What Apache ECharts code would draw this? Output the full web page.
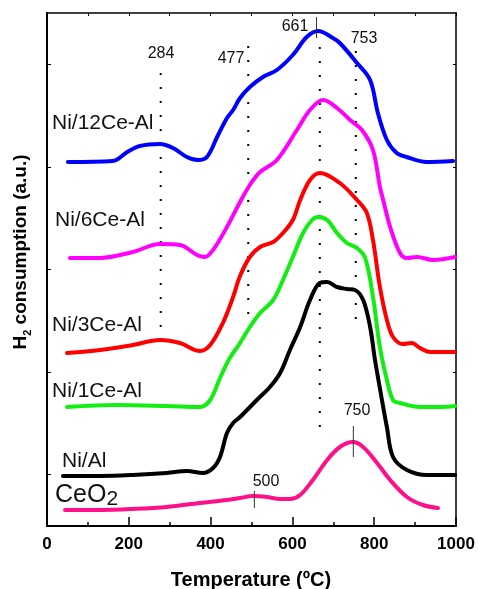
<!DOCTYPE html>
<html><head><meta charset="utf-8">
<script src="https://cdn.jsdelivr.net/npm/echarts/dist/echarts.min.js"></script>
<style>html,body{margin:0;padding:0;background:#fff}#c{width:478px;height:589px}</style>
</head><body><div id="c"></div>
<script>
// Temperature (ºC) / H2 consumption (a.u., stacked offsets)
const tNi12 = [51,161,196,227,276,308,342,369,391,416,440,455,472,496,528,562,601,635,663,699,716,758,790,809,831,855,879,928,993];
const vNi12 = [364,365,374,380,382,378,369,366,369,389,408,416,428,439,449,456,471,489,495,488,483,463,446,413,386,373,369,364,365];

const tNi6 = [56,130,210,276,325,367,386,406,440,472,496,521,562,611,643,675,709,741,770,797,814,822,839,863,880,905,944,998];
const vNi6 = [268,268,274,282,281,271,269,276,299,324,341,354,366,396,416,426,418,406,396,376,339,326,299,273,268,269,266,269];

const tNi3 = [49,130,210,276,325,374,399,430,455,472,496,521,553,577,601,619,643,667,716,758,782,797,814,831,846,870,892,912,936,998];
const vNi3 = [173,176,181,186,183,175,181,203,229,250,269,279,284,293,306,326,346,353,343,326,313,286,239,206,189,182,183,178,174,174];

const tNi1 = [49,171,293,374,399,423,447,472,496,521,553,577,601,626,648,663,685,709,733,758,778,797,814,831,846,863,912,961,998];
const vNi1 = [119,121,120,119,126,148,168,183,199,213,226,246,269,293,306,309,306,293,283,278,268,229,179,146,126,123,119,119,120];

const tNiAl = [39,130,210,293,342,381,406,423,440,455,472,513,545,570,594,619,643,667,685,709,733,753,773,790,802,819,831,846,880,929,998];
const vNiAl = [50,50,51,53,55,53,58,69,93,103,109,126,139,153,176,199,226,243,244,239,237,236,226,199,166,126,99,69,56,51,51];

const tCeO2 = [44,130,210,293,374,440,472,504,538,570,594,619,650,685,716,748,773,807,839,880,919,956];
const vCeO2 = [16,16,17,19,23,26,28,30,29,27,27,31,46,66,79,84,79,63,46,29,21,18];

// dotted guide lines (temperature, top, bottom)
const guideT = [278,492,667,755];
const guideTop = [453,480,479,475];
const guideBottom = [173,201,88,196];
// short solid peak markers
const markT = [659,749,507];
const markTop = [509,100,35];
const markBottom = [488,69,18];

const xTickLabels = ['0','200','400','600','800','1000'];

const chart = echarts.init(document.getElementById('c'), null, {renderer:'canvas'});

function curve(name, T, v, color) {
  return {name, type:'line', xAxisIndex:0, yAxisIndex:0, data:T.map((t,i)=>[t,v[i]]),
    smooth:0.35, symbol:'none', silent:true, z:3,
    lineStyle:{color, width:4, cap:'round', join:'round'}};
}
const series = [
  curve('Ni/12Ce-Al', tNi12, vNi12, '#0000ff'),
  curve('Ni/6Ce-Al', tNi6, vNi6, '#ff00ff'),
  curve('Ni/3Ce-Al', tNi3, vNi3, '#ff0000'),
  curve('Ni/1Ce-Al', tNi1, vNi1, '#11ee11'),
  curve('Ni/Al', tNiAl, vNiAl, '#000000'),
  curve('CeO2', tCeO2, vCeO2, '#ff1088')
];
guideT.forEach((t,i)=>{
  series.push({type:'line', xAxisIndex:0, yAxisIndex:0, symbol:'none', silent:true, z:2,
    data:[[t,guideTop[i]],[t,guideBottom[i]]],
    lineStyle:{color:'#000', width:2, type:[2,12]}});
});
markT.forEach((t,i)=>{
  series.push({type:'line', xAxisIndex:0, yAxisIndex:0, symbol:'none', silent:true, z:4,
    data:[[t,markTop[i]],[t,markBottom[i]]],
    lineStyle:{color:'#333', width:1}});
});

const F = 'Liberation Sans, Arial, Helvetica, sans-serif';
function txt(s, x, y, size, align, extra) {
  return Object.assign({type:'text', x, y, silent:true, z:10,
    style:{text:s, font:size+'px '+F, fill:'#111', textAlign:align||'left', textVerticalAlign:'middle'}}, extra||{});
}

const option = {
  animation:false,
  backgroundColor:'#fff',
  grid:{left:47, right:22, top:13, bottom:63},
  xAxis:[
    {type:'value', min:0, max:1000, interval:200, position:'bottom',
      axisLine:{show:true, lineStyle:{color:'#000', width:2}},
      axisTick:{show:true, inside:true, length:9, lineStyle:{color:'#000', width:1.5}},
      minorTick:{show:true, splitNumber:2, length:4, lineStyle:{color:'#000', width:1.5}},
      splitLine:{show:false}, minorSplitLine:{show:false},
      axisLabel:{color:'#000', fontWeight:'bold', fontSize:17, fontFamily:F, margin:10,
        formatter:(v)=>xTickLabels[Math.round(v/200)]}},
    {type:'value', min:0, max:1000, interval:100, position:'top',
      axisLine:{show:true, lineStyle:{color:'#000', width:1.5}},
      axisTick:{show:true, inside:true, length:3, lineStyle:{color:'#000', width:1}},
      axisLabel:{show:false}, splitLine:{show:false}}
  ],
  yAxis:[
    {type:'value', min:0, max:513, show:false, splitLine:{show:false}},
    {type:'category', data:['','','','',''], position:'left', boundaryGap:true,
      axisLine:{show:true, lineStyle:{color:'#000', width:2}},
      axisTick:{show:true, inside:true, length:4, alignWithLabel:true, interval:0, lineStyle:{color:'#000', width:1}},
      axisLabel:{show:false}, splitLine:{show:false}},
    {type:'category', data:['','','','',''], position:'right', boundaryGap:true,
      axisLine:{show:true, lineStyle:{color:'#000', width:1.5}},
      axisTick:{show:true, inside:true, length:3, alignWithLabel:true, interval:0, lineStyle:{color:'#000', width:1}},
      axisLabel:{show:false}, splitLine:{show:false}}
  ],
  series,
  graphic:[
    txt('Ni/12Ce-Al', 52, 123, 21),
    txt('Ni/6Ce-Al', 55, 220, 21),
    txt('Ni/3Ce-Al', 52, 325, 21),
    txt('Ni/1Ce-Al', 52, 391, 21),
    txt('Ni/Al', 62, 461, 21),
    {type:'text', x:55, y:495, silent:true, z:10,
      style:{text:'{a|CeO}{b|2}', fill:'#111', textVerticalAlign:'middle',
        rich:{a:{font:'25px '+F, fill:'#111', lineHeight:30, verticalAlign:'middle'},
              b:{font:'21px '+F, fill:'#111', lineHeight:30, verticalAlign:'bottom', padding:[12,0,0,0]}}}},
    txt('284', 161, 54, 16, 'center'),
    txt('477', 231, 59, 16, 'center'),
    txt('661', 295, 27, 16, 'center'),
    txt('753', 364, 39, 16, 'center'),
    txt('750', 357, 411, 16, 'center'),
    txt('500', 266, 482, 16, 'center'),
    {type:'text', x:251, y:580, silent:true, z:10,
      style:{text:'Temperature (ºC)', font:'bold 20px '+F, fill:'#000', textAlign:'center', textVerticalAlign:'middle'}},
    {type:'text', x:21, y:252, rotation:Math.PI/2, silent:true, z:10,
      style:{text:'{h|H}{s|2}{h| consumption (a.u.)}', textAlign:'center', textVerticalAlign:'middle', fill:'#000',
        rich:{h:{font:'bold 19px '+F, fill:'#000', lineHeight:24, verticalAlign:'middle'},
              s:{font:'bold 11px '+F, fill:'#000', lineHeight:24, verticalAlign:'bottom', padding:[10,0,0,0]}}}}
  ]
};
chart.setOption(option);
</script>
</body></html>
